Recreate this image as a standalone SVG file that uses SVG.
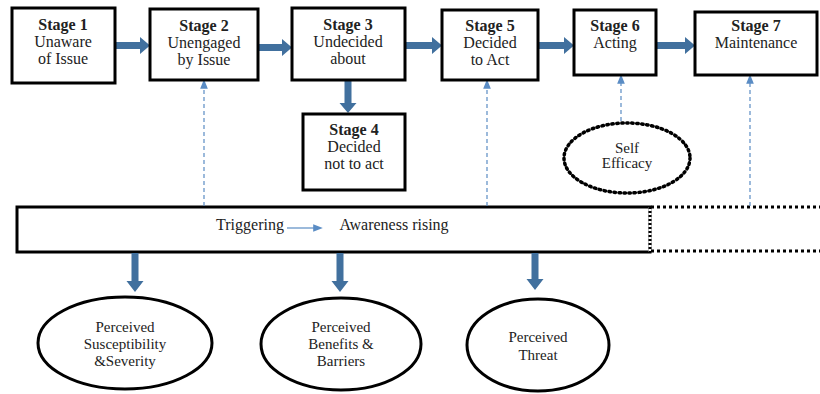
<svg xmlns="http://www.w3.org/2000/svg" width="820" height="394" viewBox="0 0 820 394" font-family="'Liberation Serif', 'Times New Roman', 'DejaVu Serif', serif">
<defs>
<style>
.box{fill:#fff;stroke:#000;stroke-width:3}
text{font-family:'Liberation Serif','Times New Roman','DejaVu Serif',serif}
.t{font-size:16px;fill:#222;text-anchor:middle}
.b{font-weight:bold}
.st{font-size:15px}
.big{fill:#41709e}
.dash{stroke:#5a8cc4;stroke-width:1.2;stroke-dasharray:4 3;fill:none}
.ell{fill:#fff;stroke:#000;stroke-width:3}
</style>
<marker id="sa" viewBox="0 0 10 10" refX="5" refY="5" markerWidth="8" markerHeight="8" orient="auto"><path d="M0,1 L10,5 L0,9 z" fill="#5a8cc4"/></marker>
</defs>
<rect width="820" height="394" fill="#fff"/>

<g id="bar">
<rect x="17" y="207" width="633" height="45" fill="#fff" stroke="#000" stroke-width="3"/>
<line x1="650" y1="207" x2="650" y2="252" stroke="#fff" stroke-width="3"/>
<line x1="650" y1="207" x2="650" y2="252" stroke="#000" stroke-width="3" stroke-dasharray="2 2"/>
<line x1="651" y1="207" x2="820" y2="207" stroke="#000" stroke-width="3" stroke-dasharray="3 3"/>
<line x1="651" y1="251" x2="820" y2="251" stroke="#000" stroke-width="3" stroke-dasharray="3 3"/>
<text class="t" x="250" y="230">Triggering</text>
<text class="t" x="394" y="230">Awareness rising</text>
</g>

<g id="connectors">
<path class="big" d="M115,42 H140 V37 L150,45.5 L140,54 V49 H115 Z"/>
<path class="big" d="M258,44 H282 V39 L292,47.5 L282,56 V51 H258 Z"/>
<path class="big" d="M405,42 H432 V37 L442,45.5 L432,54 V49 H405 Z"/>
<path class="big" d="M538,42 H564 V37 L574,45.5 L564,54 V49 H538 Z"/>
<path class="big" d="M656,42 H685 V37 L695,45.5 L685,54 V49 H656 Z"/>
<path class="big" d="M344.5,80 V103 H339.5 L348,113 L356.5,103 H351.5 V80 Z"/>
<path class="big" d="M131.5,253 V281 H126.5 L135,292 L143.5,281 H138.5 V253 Z"/>
<path class="big" d="M336.5,253 V281 H331.5 L340,292 L348.5,281 H343.5 V253 Z"/>
<path class="big" d="M531.5,253 V279 H526.5 L535,290 L543.5,279 H538.5 V253 Z"/>
<line class="dash" x1="204" y1="206" x2="204" y2="84" marker-end="url(#sa)"/>
<line class="dash" x1="487" y1="206" x2="487" y2="84" marker-end="url(#sa)"/>
<line class="dash" x1="621" y1="121" x2="621" y2="79" marker-end="url(#sa)"/>
<line class="dash" x1="750" y1="206" x2="750" y2="79" marker-end="url(#sa)"/>
<line x1="287" y1="228" x2="318" y2="228" stroke="#5a8cc4" stroke-width="1.2" marker-end="url(#sa)"/>
</g>

<g id="stage1">
<rect class="box" x="12" y="8" width="103" height="75"/>
<text class="t b" x="63" y="30">Stage 1</text>
<text class="t" x="63" y="47">Unaware</text>
<text class="t" x="63" y="64">of Issue</text>
</g>
<g id="stage2">
<rect class="box" x="150" y="9" width="108" height="71"/>
<text class="t b" x="204" y="31">Stage 2</text>
<text class="t" x="204" y="48">Unengaged</text>
<text class="t" x="204" y="65">by Issue</text>
</g>
<g id="stage3">
<rect class="box" x="292" y="8" width="113" height="72"/>
<text class="t b" x="348" y="30">Stage 3</text>
<text class="t" x="348" y="47">Undecided</text>
<text class="t" x="348" y="64">about</text>
</g>
<g id="stage4">
<rect class="box" x="303" y="114" width="102" height="76"/>
<text class="t b" x="354" y="135">Stage 4</text>
<text class="t" x="354" y="152">Decided</text>
<text class="t" x="354" y="169">not to act</text>
</g>
<g id="stage5">
<rect class="box" x="442" y="10" width="96" height="70"/>
<text class="t b" x="490" y="31">Stage 5</text>
<text class="t" x="490" y="48">Decided</text>
<text class="t" x="490" y="65">to Act</text>
</g>
<g id="stage6">
<rect class="box" x="574" y="10" width="82" height="65"/>
<text class="t b" x="615" y="31">Stage 6</text>
<text class="t" x="615" y="48">Acting</text>
</g>
<g id="stage7">
<rect class="box" x="695" y="12" width="122" height="63"/>
<text class="t b" x="756" y="31">Stage 7</text>
<text class="t" x="756" y="48">Maintenance</text>
</g>
<g id="selfEfficacy">
<ellipse cx="627" cy="158" rx="63" ry="35" fill="#fff" stroke="#000" stroke-width="3.5" stroke-dasharray="1.5 3.5" stroke-linecap="round"/>
<text class="t st" x="627" y="153">Self</text>
<text class="t st" x="627" y="168">Efficacy</text>
</g>
<g id="susceptibility">
<ellipse class="ell" cx="125" cy="343" rx="87" ry="46"/>
<text class="t st" x="125" y="332">Perceived</text>
<text class="t st" x="125" y="349">Susceptibility</text>
<text class="t st" x="125" y="366">&amp;Severity</text>
</g>
<g id="benefits">
<ellipse class="ell" cx="341" cy="344" rx="80" ry="46"/>
<text class="t st" x="341" y="332">Perceived</text>
<text class="t st" x="341" y="349">Benefits &amp;</text>
<text class="t st" x="341" y="366">Barriers</text>
</g>
<g id="threat">
<ellipse class="ell" cx="538" cy="345" rx="71" ry="46"/>
<text class="t st" x="538" y="342">Perceived</text>
<text class="t st" x="538" y="360">Threat</text>
</g>
</svg>
